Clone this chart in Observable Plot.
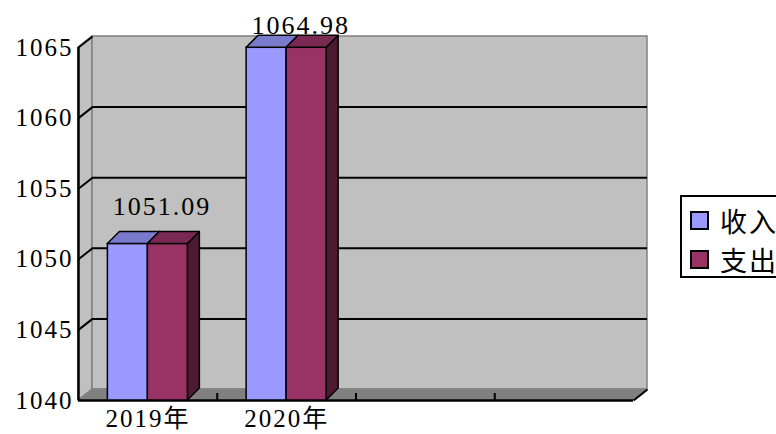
<!DOCTYPE html>
<html><head><meta charset="utf-8">
<script src="https://cdn.jsdelivr.net/npm/d3@7"></script>
<script src="https://cdn.jsdelivr.net/npm/@observablehq/plot@0.6"></script>
<style>
html,body{margin:0;padding:0;background:#fff;overflow:hidden;}
#wrap{position:relative;width:776px;height:434px;overflow:hidden;}
#legend{position:absolute;left:680px;top:195px;width:130px;height:83px;border:2px solid #000;box-sizing:border-box;background:#fff;font-family:"Noto Sans CJK SC",sans-serif;font-size:27px;color:#000;}
.item{position:absolute;left:8px;height:30px;display:flex;align-items:center;white-space:nowrap;}
.sw{width:15px;height:15px;border:2px solid #000;margin-right:11px;flex:none;}
svg text{letter-spacing:2px;}
</style></head><body><div id="wrap"><div id="chart"></div><div id="legend"></div></div>
<script>
// ---- data ----
const years = ["2019年", "2020年"];
const seriesNames = ["收入", "支出"];
const income = [1051.09, 1064.98];
const expense = [1051.09, 1064.98];
const valueLabels = ["1051.09", "1064.98"];
const yTicks = [1040, 1045, 1050, 1055, 1060, 1065];
const slots = 4; // category slots along the x axis
const frontColors = ["#9999FF", "#993366"];
const topColors = ["#7a7acc", "#7a2952"];
const sideColors = ["#6b6bb3", "#4d1a33"];

// ---- layout ----
const W = 776, H = 434, mL = 78, mR = 143, mT = 47, mB = 34;
const yMin = 1040, yMax = 1065;
const pxX = (W - mL - mR) / slots;
const pxY = (H - mT - mB) / (yMax - yMin);
const wallDx = 14 / pxX, wallDy = 11 / pxY;
const barDx = 12 / pxX, barDy = 12 / pxY;
const barW = 40 / pxX;

function hPara(id, xL, xR, y, d, e) {
  return [
    {id, x: xL, y1: y, y2: y},
    {id, x: xL + d, y1: y, y2: y + e},
    {id, x: xR, y1: y, y2: y + e},
    {id, x: xR + d, y1: y + e, y2: y + e}
  ];
}
function vPara(id, x, yB, yT, d, e) {
  return [
    {id, x, y1: yB, y2: yT},
    {id, x: x + d, y1: yB + e, y2: yT + e}
  ];
}

const seriesVals = [income, expense];
const fronts = [], tops = [], sides = [];
years.forEach((yr, i) => {
  seriesVals.forEach((vals, s) => {
    const v = vals[i];
    const c = i + 0.5;
    const x0 = c + (s - 1) * barW, x1 = x0 + barW;
    fronts.push({x1: x0, x2: x1, y: v, s});
    tops.push(...hPara(`t${i}${s}`, x0, x1, v, barDx, barDy).map(p => ({...p, s})));
    sides.push(...vPara(`s${i}${s}`, x1, yMin, v, barDx, barDy).map(p => ({...p, s})));
  });
});

const leftWall = vPara("lw", 0, yMin, yMax, wallDx, wallDy);
const floor = hPara("fl", 0, slots, yMin, wallDx, wallDy);
const gridVals = yTicks.filter(t => t > yMin && t < yMax);
const labelData = years.map((y, i) => ({
  x: i + 0.5,
  y: Math.min(Math.max(income[i], expense[i]) + 37 / pxY, yMax + 22 / pxY),
  text: valueLabels[i]
}));

const serif = "'Liberation Serif','Noto Sans CJK SC',serif";

const chart = Plot.plot({
  width: W, height: H,
  marginLeft: mL, marginRight: mR, marginTop: mT, marginBottom: mB,
  x: {type: "linear", domain: [0, slots], axis: null},
  y: {domain: [yMin, yMax], axis: null},
  style: {fontFamily: serif, fontSize: "25px", color: "#000", background: "#fff", overflow: "visible"},
  marks: [
    // walls
    Plot.areaY(leftWall, {x: "x", y1: "y1", y2: "y2", fill: "#c0c0c0", stroke: "#808080", strokeWidth: 1.5}),
    Plot.rect([0], {x1: wallDx, x2: slots + wallDx, y1: yMin + wallDy, y2: yMax + wallDy, fill: "#c0c0c0", stroke: "#808080", strokeWidth: 1.5}),
    Plot.areaY(floor, {x: "x", y1: "y1", y2: "y2", fill: "#808080", stroke: "#808080"}),
    // gridlines
    Plot.ruleY(gridVals, {y: d => d + wallDy, x1: wallDx, x2: slots + wallDx, stroke: "#000", strokeWidth: 2}),
    Plot.link(yTicks.filter(t => t > yMin), {x1: 0, y1: d => d, x2: wallDx, y2: d => d + wallDy, stroke: "#000", strokeWidth: 2}),
    // axes
    Plot.ruleX([0], {y1: yMin, y2: yMax, stroke: "#000", strokeWidth: 2.5}),
    Plot.ruleY([yMin], {x1: 0, x2: slots, stroke: "#000", strokeWidth: 2.5}),
    Plot.ruleX(d3.range(1, slots), {y1: yMin, y2: yMin + 7 / pxY, stroke: "#000", strokeWidth: 2}),
    Plot.link([slots], {x1: d => d, y1: yMin, x2: d => d + wallDx, y2: yMin + wallDy, stroke: "#000", strokeWidth: 2}),
    // bars
    Plot.areaY(sides, {x: "x", y1: "y1", y2: "y2", z: "id", fill: d => sideColors[d.s], stroke: "#000", strokeWidth: 1.5}),
    Plot.rect(fronts, {x1: "x1", x2: "x2", y1: yMin, y2: "y", fill: d => frontColors[d.s], stroke: "#000", strokeWidth: 1.5}),
    Plot.areaY(tops, {x: "x", y1: "y1", y2: "y2", z: "id", fill: d => topColors[d.s], stroke: "#000", strokeWidth: 1.5}),
    // value labels
    Plot.text(labelData, {x: "x", y: "y", text: "text", dx: 14, lineAnchor: "middle", fontSize: 26, fontFamily: serif, fill: "#000"}),
    // y tick labels
    Plot.text(yTicks, {x: 0, y: d => d, text: d => String(d), textAnchor: "end", dx: -5, lineAnchor: "middle", fontSize: 25, fontFamily: serif, fill: "#000"}),
    // x category labels
    Plot.text(years, {x: (d, i) => i + 0.5, y: yMin, text: d => d, dy: 18, lineAnchor: "middle", fontSize: 25, fontFamily: serif, fill: "#000"})
  ]
});
document.getElementById("chart").appendChild(chart);

// legend
const lg = document.getElementById("legend");
seriesNames.forEach((name, s) => {
  const it = document.createElement("div");
  it.className = "item";
  it.style.top = (8 + s * 39) + "px";
  const sw = document.createElement("span");
  sw.className = "sw";
  sw.style.background = frontColors[s];
  const tx = document.createElement("span");
  tx.textContent = name;
  tx.style.letterSpacing = "2px";
  it.appendChild(sw); it.appendChild(tx);
  lg.appendChild(it);
});
</script>
</body></html>
